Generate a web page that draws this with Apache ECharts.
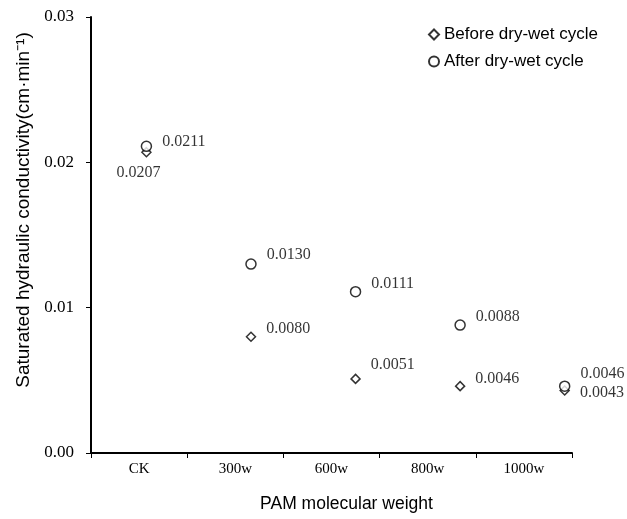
<!DOCTYPE html>
<html>
<head>
<meta charset="utf-8">
<script src="https://cdn.jsdelivr.net/npm/echarts@6/dist/echarts.min.js"></script>
<style>
  html, body { margin: 0; padding: 0; background: #fff; }
  #chart { width: 627px; height: 519px; }
</style>
</head>
<body>
<div id="chart"></div>
<script>
// 数据
var categories = ['CK', '300w', '600w', '800w', '1000w']
var beforeValues = [0.0207, 0.0080, 0.0051, 0.0046, 0.0043]
var afterValues = [0.0211, 0.0130, 0.0111, 0.0088, 0.0046]
var yTicks = [0, 0.01, 0.02, 0.03]

// 标签上下微调 (px)
var beforeLabelDy = [0, -8, -14, -7, 2]
var afterLabelDy = [-5, -9, -8, -8, -12]

var serif = 'Liberation Serif'
var sans = 'Liberation Sans'

function buildPoints(values, dys, isBefore) {
  return values.map(function (v, i) {
    var item = { value: [i + 1, v], label: { offset: [5, dys[i]] } }
    if (isBefore && i === 0) {
      // CK 的下方标签
      item.label = { position: 'bottom', offset: [-8, 2] }
    }
    return item
  })
}

var chart = echarts.init(document.getElementById('chart'))
var option = {
  animation: false,
  backgroundColor: '#fff',
  grid: { left: 91, right: 55, top: 17, bottom: 66 },
  legend: {
    orient: 'vertical',
    right: 24,
    top: 21,
    itemGap: 10,
    itemWidth: 10,
    itemHeight: 10,
    textStyle: { fontFamily: sans, fontSize: 17, color: '#000' },
    data: ['Before dry-wet cycle', 'After dry-wet cycle']
  },
  xAxis: [
    {
      type: 'category',
      data: categories,
      name: 'PAM molecular weight',
      nameLocation: 'middle',
      nameGap: 42,
      nameTextStyle: { fontFamily: sans, fontSize: 17.5, color: '#000', padding: [0, 0, 0, 30] },
      axisLine: { lineStyle: { color: '#000', width: 2 } },
      axisTick: { show: true, length: 5, lineStyle: { color: '#000', width: 1 } },
      axisLabel: { fontFamily: serif, fontSize: 15, color: '#000', margin: 9 },
      splitLine: { show: false }
    },
    {
      type: 'value',
      show: false,
      min: 0.47,
      max: 5.07,
      position: 'bottom'
    }
  ],
  yAxis: {
    type: 'value',
    min: 0,
    max: 0.03,
    interval: 0.01,
    name: 'Saturated hydraulic conductivity(cm·min⁻¹)',
    nameLocation: 'middle',
    nameGap: 49,
    nameTextStyle: { fontFamily: sans, fontSize: 19, color: '#000', padding: [0, 0, 0, 50] },
    axisLine: { show: true, lineStyle: { color: '#000', width: 2 } },
    axisTick: { show: true, length: 5, lineStyle: { color: '#000', width: 1 } },
    axisLabel: {
      fontFamily: serif,
      fontSize: 17,
      color: '#000',
      margin: 17,
      formatter: function (v) {
        return yTicks.indexOf(v) >= 0 ? v.toFixed(2) : ''
      }
    },
    splitLine: { show: false }
  },
  series: [
    {
      name: 'Before dry-wet cycle',
      type: 'scatter',
      xAxisIndex: 1,
      symbol: 'diamond',
      symbolSize: 9,
      itemStyle: { color: '#fff', borderColor: '#000', borderWidth: 1.5 },
      label: {
        show: true,
        position: 'right',
        fontFamily: serif,
        fontSize: 16,
        color: '#000',
        formatter: function (p) { return p.value[1].toFixed(4) }
      },
      data: buildPoints(beforeValues, beforeLabelDy, true)
    },
    {
      name: 'After dry-wet cycle',
      type: 'scatter',
      xAxisIndex: 1,
      symbol: 'circle',
      symbolSize: 10,
      itemStyle: { color: '#fff', borderColor: '#000', borderWidth: 1.5 },
      label: {
        show: true,
        position: 'right',
        fontFamily: serif,
        fontSize: 16,
        color: '#000',
        formatter: function (p) { return p.value[1].toFixed(4) }
      },
      data: buildPoints(afterValues, afterLabelDy, false)
    }
  ]
}
chart.setOption(option)
</script>
</body>
</html>
